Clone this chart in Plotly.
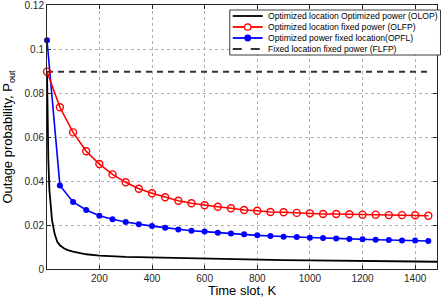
import plotly.graph_objects as go

# ---------------- data ----------------
k_marks = [1, 50, 100, 150, 200, 250, 300, 350, 400, 450, 500, 550, 600, 650, 700,
           750, 800, 850, 900, 950, 1000, 1050, 1100, 1150, 1200, 1250, 1300, 1350,
           1400, 1450]
olfp = [0.0897, 0.0735, 0.0621, 0.0535, 0.0477, 0.0430, 0.0394, 0.0365, 0.0344,
        0.0326, 0.0310, 0.0299, 0.0290, 0.0283, 0.0276, 0.0268, 0.0265, 0.0259,
        0.0258, 0.0255, 0.0253, 0.0250, 0.0250, 0.0249, 0.0247, 0.0247, 0.0245,
        0.0245, 0.0244, 0.0242]
opfl = [0.1040, 0.0380, 0.0305, 0.0268, 0.0242, 0.0226, 0.0214, 0.0203, 0.0195,
        0.0188, 0.0180, 0.0174, 0.0170, 0.0165, 0.0161, 0.0158, 0.0153, 0.0150,
        0.0147, 0.0145, 0.0142, 0.0141, 0.0139, 0.0136, 0.0135, 0.0133, 0.0132,
        0.0130, 0.0129, 0.0127]

k_olop = [1, 3, 6, 10, 15, 20, 30, 40, 50, 65, 80, 100, 150, 200, 300, 400, 500,
          600, 700, 800, 900, 1000, 1100, 1200, 1300, 1400, 1483]
olop = [0.0897, 0.0700, 0.0500, 0.0360, 0.0270, 0.0223, 0.0160, 0.0124, 0.0108,
        0.0094, 0.0086, 0.0079, 0.0067, 0.0061, 0.0055, 0.0052, 0.0049, 0.0046,
        0.0044, 0.0042, 0.0040, 0.0039, 0.0037, 0.0036, 0.0035, 0.0034, 0.0033]

k_flfp = [1, 1450]
flfp = [0.0897, 0.0897]

names = ["Optimized location Optimized power (OLOP)",
         "Optimized location fixed power (OLFP)",
         "Optimized power fixed location(OPFL)",
         "Fixed location fixed power (FLFP)"]

x_ticks = [200, 400, 600, 800, 1000, 1200, 1400]
y_ticks = [0, 0.02, 0.04, 0.06, 0.08, 0.10, 0.12]
y_ticktext = ["0", "0.02", "0.04", "0.06", "0.08", "0.1", "0.12"]

# ---------------- figure ----------------
W, H = 443, 298
ML, MR, MT, MB = 47, 5.5, 5, 29
PW, PH = W - ML - MR, H - MT - MB

FONT = "Liberation Sans, Arial, sans-serif"
RED, BLUE, BLACK, DGRAY = "#ff0000", "#0000ff", "#000000", "#333333"

fig = go.Figure()
fig.add_trace(go.Scatter(x=k_olop, y=olop, mode="lines",
                         line=dict(color=BLACK, width=1.8), showlegend=False))
fig.add_trace(go.Scatter(x=k_flfp, y=flfp, mode="lines",
                         line=dict(color=DGRAY, width=2, dash="6px,5px"), showlegend=False))
fig.add_trace(go.Scatter(x=k_marks, y=opfl, mode="lines+markers", cliponaxis=False,
                         line=dict(color=BLUE, width=1.6),
                         marker=dict(symbol="circle", size=6, color=BLUE), showlegend=False))
fig.add_trace(go.Scatter(x=k_marks, y=olfp, mode="lines+markers", cliponaxis=False,
                         line=dict(color=RED, width=1.6),
                         marker=dict(symbol="circle-open", size=7, color=RED,
                                     line=dict(width=1.4, color=RED)), showlegend=False))

axis_common = dict(showline=True, linecolor="#262626", linewidth=1, mirror="ticks",
                   ticks="inside", ticklen=4, tickcolor="#262626",
                   showgrid=True, gridcolor="#b0b0b0", gridwidth=1, griddash="dot",
                   zeroline=False, automargin=False, ticklabeloverflow="allow",
                   tickfont=dict(family=FONT, size=10, color="#262626"))

fig.update_xaxes(range=[1, 1483], tickvals=x_ticks,
                 title=dict(text="Time slot, K", standoff=2,
                            font=dict(family=FONT, size=13, color="#000")),
                 **axis_common)
fig.update_yaxes(range=[0, 0.12], tickvals=y_ticks, ticktext=y_ticktext,
                 title=dict(text="Outage probability, P<sub>out</sub>", standoff=15,
                            font=dict(family=FONT, size=13, color="#000")),
                 **axis_common)

# ---------------- manual legend (pixel positions -> paper) ----------------
def px(x):
    return (x - ML) / PW

def py(y):
    return (H - MB - y) / PH

shapes = [dict(type="rect", xref="paper", yref="paper",
               x0=px(230), x1=px(441), y0=py(55), y1=py(10),
               line=dict(color="#3a3a3a", width=1), fillcolor="white", layer="above")]
annotations = []
rows = [16, 27, 38, 49]
styles = [(BLACK, "solid", None), (RED, "solid", "open"), (BLUE, "solid", "filled"),
          (DGRAY, "dash", None)]
for name, yy, (col, dash, mk) in zip(names, rows, styles):
    shapes.append(dict(type="line", xref="paper", yref="paper",
                       x0=px(233), x1=px(263), y0=py(yy), y1=py(yy),
                       line=dict(color=col, width=1.8, dash=dash), layer="above"))
    if mk:
        r = 3.2 if mk == "open" else 2.8
        shapes.append(dict(type="circle", xref="paper", yref="paper",
                           xsizemode="pixel", ysizemode="pixel",
                           xanchor=px(248), yanchor=py(yy),
                           x0=-r, x1=r, y0=-r, y1=r,
                           line=dict(color=col, width=1.3),
                           fillcolor="white" if mk == "open" else col, layer="above"))
    annotations.append(dict(xref="paper", yref="paper", x=px(266), y=py(yy),
                            xanchor="left", yanchor="middle", showarrow=False,
                            text=name, font=dict(family=FONT, size=8.6, color="#000")))

fig.update_layout(width=W, height=H, margin=dict(l=ML, r=MR, t=MT, b=MB, pad=0),
                  paper_bgcolor="white", plot_bgcolor="white",
                  shapes=shapes, annotations=annotations, showlegend=False)

fig.write_html("out.html", config={"displayModeBar": False},
               post_script="document.body.style.margin='0px';")
